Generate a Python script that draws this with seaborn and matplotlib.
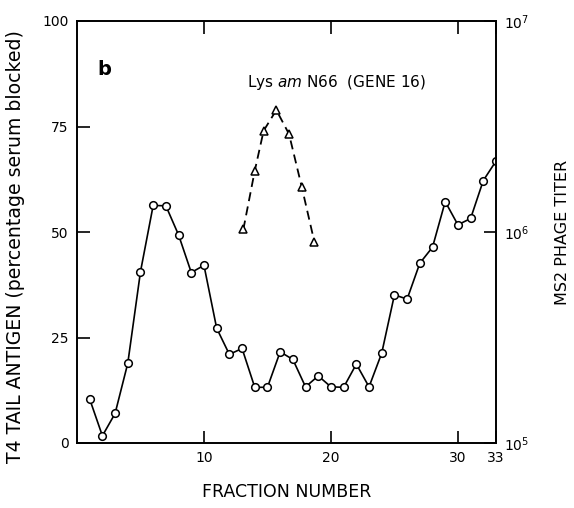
import numpy as np
import pandas as pd
import matplotlib
matplotlib.use("Agg")
import matplotlib.pyplot as plt
import seaborn as sns

# Data
circle_fraction = list(range(1, 34))
circle_antigen = [10.4, 1.7, 7.0, 18.9, 40.6, 56.3, 56.2, 49.3, 40.4, 42.1,
                  27.2, 21.0, 22.4, 13.2, 13.2, 21.6, 19.8, 13.3, 15.9, 13.3,
                  13.2, 18.7, 13.3, 21.3, 35.1, 34.1, 42.6, 46.4, 57.2, 51.7,
                  53.2, 62.2, 66.8]
tri_fraction = [13.1, 14.0, 14.7, 15.7, 16.7, 17.7, 18.7]
tri_antigen = [50.6, 64.5, 74.0, 78.9, 73.2, 60.7, 47.6]

x_ticks = [10, 20, 30, 33]
x_ticklabels = ["10", "20", "30", "33"]
left_ticks = [0, 25, 50, 75, 100]
right_ticks = [1e5, 1e6, 1e7]
right_ticklabels = [r"$10^5$", r"$10^6$", r"$10^7$"]

sns.set_theme(style="white", rc={"text.color": "black", "axes.labelcolor": "black",
                                 "xtick.color": "black", "ytick.color": "black",
                                 "axes.edgecolor": "black"})
plt.rcParams['font.family'] = ['DejaVu Sans']

fig = plt.figure(figsize=(5.74, 5.08), dpi=100)
ax = fig.add_axes([77/574, 1 - 443/508, (496 - 77)/574, (443 - 21)/508])

circ = pd.DataFrame({"fraction": circle_fraction, "antigen": circle_antigen})
tri = pd.DataFrame({"fraction": tri_fraction, "antigen": tri_antigen})

sns.lineplot(data=circ, x="fraction", y="antigen", ax=ax, color="black",
             linewidth=1.2, marker="o", markersize=5.5, markerfacecolor="white",
             markeredgecolor="black", markeredgewidth=1.1)
sns.lineplot(data=tri, x="fraction", y="antigen", ax=ax, color="black",
             linewidth=1.3, linestyle=(0, (5, 3)), marker="^", markersize=5.5,
             markerfacecolor="white", markeredgecolor="black", markeredgewidth=1.1)

ax.set_xlim(0, 33)
ax.set_ylim(0, 100)
ax.set_xticks(x_ticks)
ax.set_xticklabels(x_ticklabels)
ax.set_yticks(left_ticks)
ax.set_yticklabels([str(t) for t in left_ticks])
ax.tick_params(axis="both", direction="in", length=9, width=1.2, colors="black",
               labelsize=10, pad=6)
ax.tick_params(axis="x", top=True, bottom=True)
ax.tick_params(axis="y", left=True, right=False)
for s in ax.spines.values():
    s.set_color("black")
    s.set_linewidth(1.4)
ax.set_xlabel("FRACTION NUMBER", fontsize=12.5, labelpad=13)
ax.set_ylabel("T4 TAIL ANTIGEN (percentage serum blocked)", fontsize=13.6)
ax.yaxis.set_label_coords(-0.124, 0.465)

ax2 = ax.twinx()
ax2.set_yscale("log")
ax2.set_ylim(1e5, 1e7)
ax2.set_yticks(right_ticks)
ax2.set_yticklabels(right_ticklabels)
ax2.yaxis.set_minor_locator(matplotlib.ticker.NullLocator())
ax2.tick_params(axis="y", direction="in", length=9, width=1.2, colors="black",
                labelsize=10, pad=6)
ax2.set_ylabel("MS2 PHAGE TITER", fontsize=11.5, labelpad=18)
for s in ax2.spines.values():
    s.set_visible(False)

ax.text(0.065, 0.885, "b", transform=ax.transAxes, fontsize=14, fontweight="bold",
        ha="center", va="center")
ax.text(0.405, 0.855, r"Lys $\it{am}$ N66  (GENE 16)", transform=ax.transAxes,
        fontsize=11, ha="left", va="center")

fig.savefig("out.png", dpi=100)
